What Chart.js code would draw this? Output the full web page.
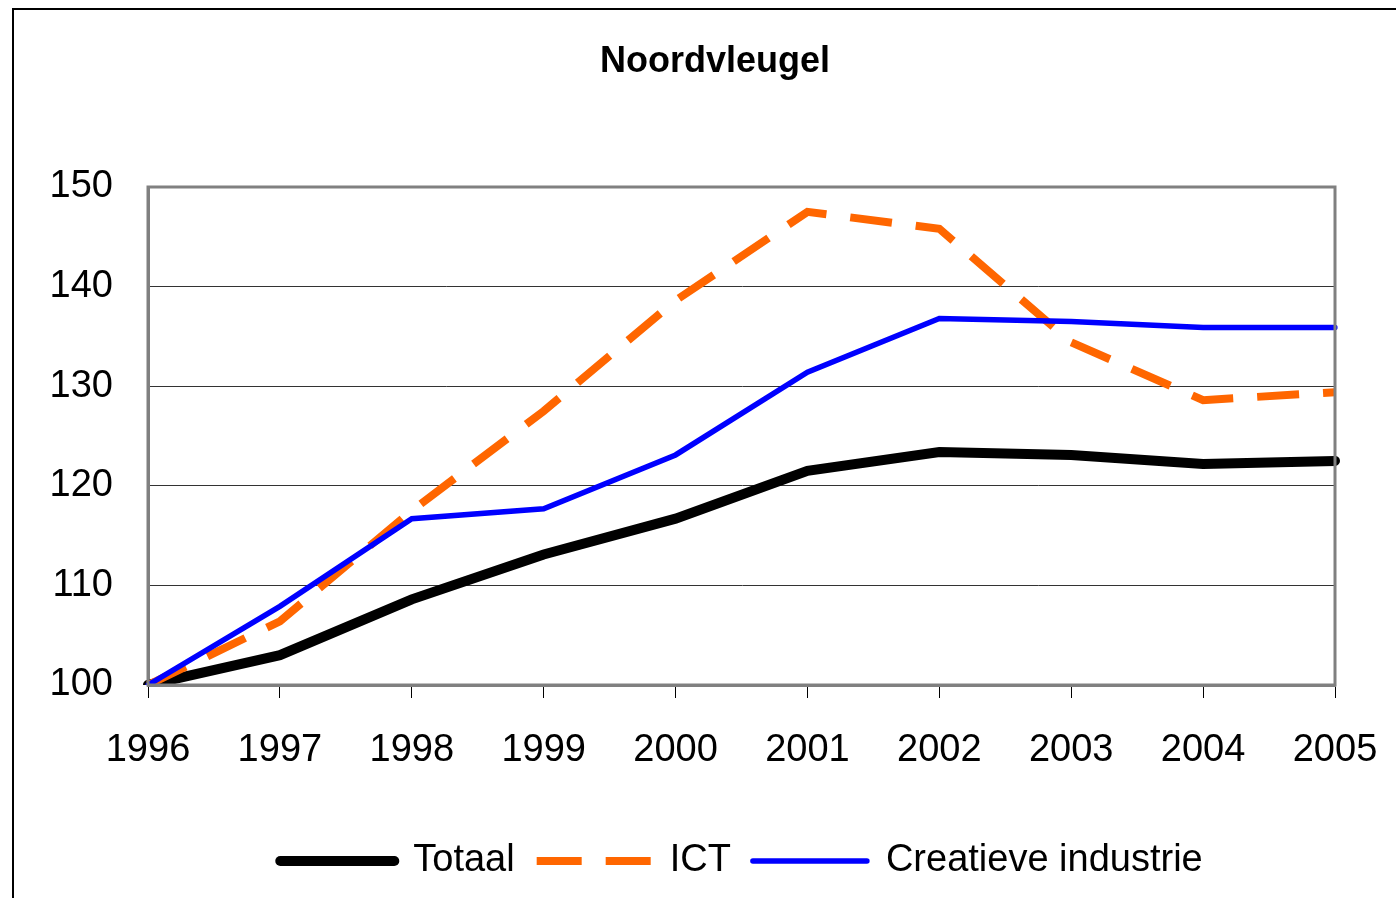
<!DOCTYPE html>
<html>
<head>
<meta charset="utf-8">
<title>Noordvleugel</title>
<script src="https://cdn.jsdelivr.net/npm/chart.js@4/dist/chart.umd.min.js"></script>
<style>
    html, body { margin: 0; padding: 0; background: #fff; overflow: hidden; width: 1396px; height: 898px; }
    #frame {
        position: absolute; left: 12px; top: 8px; width: 1400px; height: 900px;
        border-left: 2px solid #000; border-top: 2px solid #000;
    }
    #wrap { position: absolute; left: 0; top: 0; width: 1430px; height: 898px; }
</style>
</head>
<body>
<div id="frame"></div>
<div id="wrap"><canvas id="chart"></canvas></div>
<script>
// Data (index, 1996 = 100)
const years = ['1996', '1997', '1998', '1999', '2000', '2001', '2002', '2003', '2004', '2005'];
const totaal = [100, 103.0, 108.6, 113.1, 116.7, 121.5, 123.4, 123.1, 122.2, 122.5];
const ict = [100, 106.4, 117.5, 127.5, 138.6, 147.5, 145.8, 134.4, 128.6, 129.4];
const creatief = [100, 107.9, 116.7, 117.7, 123.1, 131.4, 136.8, 136.5, 135.9, 135.9];

const FONT = '"Liberation Sans", Arial, sans-serif';

// grey frame round the plot area
const plotBorder = {
    id: 'plotBorder',
    afterDatasetsDraw(chart) {
        const { ctx, chartArea: a } = chart;
        ctx.save();
        ctx.strokeStyle = '#808080';
        ctx.lineWidth = 3;
        ctx.strokeRect(a.left, a.top, a.right - a.left, a.bottom - a.top);
        ctx.restore();
    }
};

// legend samples: keep dash and caps of the lines themselves
function legendLabels(chart) {
    const items = Chart.defaults.plugins.legend.labels.generateLabels(chart);
    items.forEach(item => {
        const ds = chart.data.datasets[item.datasetIndex];
        item.lineDash = ds.borderDash ? [45, 24] : [];
        item.lineCap = ds.borderCapStyle || 'butt';
        item.lineWidth = ds.borderWidth;
    });
    return items.sort((a, b) => a.datasetIndex - b.datasetIndex);
}

new Chart(document.getElementById('chart'), {
    type: 'line',
    data: {
        labels: years,
        datasets: [
            {
                label: 'Totaal',
                data: totaal,
                borderColor: '#000000',
                backgroundColor: '#000000',
                borderWidth: 10,
                borderCapStyle: 'round',
                order: 3
            },
            {
                label: 'ICT',
                data: ict,
                borderColor: '#ff6600',
                backgroundColor: '#ff6600',
                borderWidth: 8,
                borderDash: [42, 24],
                order: 2
            },
            {
                label: 'Creatieve industrie',
                data: creatief,
                borderColor: '#0000ff',
                backgroundColor: '#0000ff',
                borderWidth: 5.5,
                borderCapStyle: 'round',
                order: 1
            }
        ]
    },
    options: {
        responsive: true,
        maintainAspectRatio: false,
        animation: false,
        elements: {
            point: { radius: 0, hoverRadius: 0 },
            line: { tension: 0 }
        },
        layout: { padding: { left: 0, right: 0, top: 0, bottom: 8 } },
        plugins: {
            tooltip: { enabled: false },
            title: {
                display: true,
                text: 'Noordvleugel',
                color: '#000',
                font: { family: FONT, size: 36, weight: 'bold', lineHeight: 1.2 },
                padding: { top: 40, bottom: 103.8 }
            },
            legend: {
                position: 'bottom',
                fullSize: false,
                labels: {
                    color: '#000',
                    font: { family: FONT, size: 38 },
                    usePointStyle: true,
                    pointStyle: 'line',
                    pointStyleWidth: 114,
                    boxHeight: 38,
                    padding: 22,
                    generateLabels: legendLabels
                }
            }
        },
        scales: {
            x: {
                type: 'category',
                offset: false,
                afterFit(scale) {
                    scale.height = 135;
                    scale.paddingLeft = 0;
                    scale.paddingRight = 95;
                },
                grid: {
                    drawOnChartArea: false,
                    drawTicks: true,
                    tickLength: 13,
                    color: '#000',
                    lineWidth: 1
                },
                border: { display: true, color: '#808080', width: 3 },
                ticks: {
                    color: '#000',
                    font: { family: FONT, size: 38 },
                    padding: 30,
                    maxRotation: 0,
                    autoSkip: false
                }
            },
            y: {
                min: 100,
                max: 150,
                afterFit(scale) { scale.width = 148; },
                grid: {
                    drawTicks: false,
                    color: '#333',
                    lineWidth: 1
                },
                border: { display: true, color: '#808080', width: 3 },
                ticks: {
                    stepSize: 10,
                    color: '#000',
                    font: { family: FONT, size: 38 },
                    padding: 35
                }
            }
        }
    },
    plugins: [plotBorder]
});
</script>
</body>
</html>
